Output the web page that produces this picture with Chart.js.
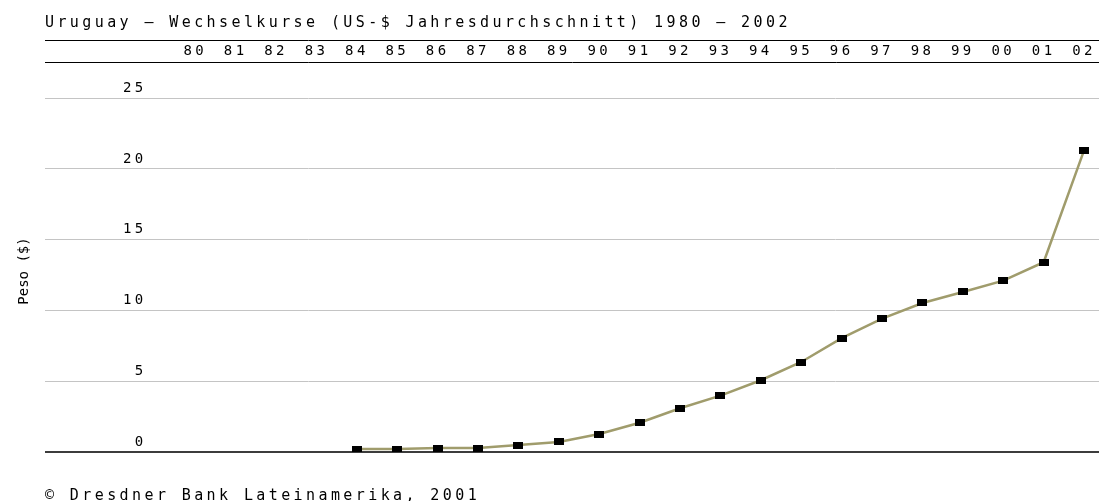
<!DOCTYPE html>
<html>
<head>
<meta charset="utf-8">
<script src="https://cdn.jsdelivr.net/npm/chart.js@4.4.1/dist/chart.umd.min.js"></script>
<style>
  body { margin: 0; background: #fff; }
  canvas { display: block; }
</style>
</head>
<body>
<canvas id="rateChart" width="1099" height="501"></canvas>
<script>
// Uruguay: peso per US-$, yearly average
const years = [1984, 1985, 1986, 1987, 1988, 1989, 1990, 1991, 1992, 1993,
  1994, 1995, 1996, 1997, 1998, 1999, 2000, 2001, 2002];
const pesoPerDollar = [0.21, 0.21, 0.28, 0.28, 0.49, 0.71, 1.27, 2.07, 3.09, 3.98,
  5.07, 6.36, 8.04, 9.42, 10.53, 11.31, 12.11, 13.41, 21.32];

const yearTicks = [1980, 1981, 1982, 1983, 1984, 1985, 1986, 1987, 1988, 1989, 1990, 1991,
  1992, 1993, 1994, 1995, 1996, 1997, 1998, 1999, 2000, 2001, 2002];
const yearLabels = ['80', '81', '82', '83', '84', '85', '86', '87', '88', '89', '90', '91',
  '92', '93', '94', '95', '96', '97', '98', '99', '00', '01', '02'];
const pesoTicks = [0, 5, 10, 15, 20, 25];

const FONT = '"DejaVu Sans Mono", "Liberation Mono", monospace';
const SPACING = '3.4px';

// black 10x7 marker, like the original gif
const marker = document.createElement('canvas');
marker.width = 10;
marker.height = 7;
const mctx = marker.getContext('2d');
mctx.fillStyle = '#000';
mctx.fillRect(0, 0, 10, 7);

const deco = {
  id: 'deco',
  beforeUpdate(chart) { chart.ctx.letterSpacing = SPACING; },
  beforeDraw(chart) { chart.ctx.letterSpacing = SPACING; },
  afterDraw(chart) {
    const ctx = chart.ctx;
    const area = chart.chartArea;
    const xs = chart.scales.x;
    ctx.save();
    // upper rule above the year row
    ctx.strokeStyle = '#000';
    ctx.lineWidth = 1;
    ctx.beginPath();
    ctx.moveTo(area.left, Math.round(xs.top) + 0.5);
    ctx.lineTo(area.right, Math.round(xs.top) + 0.5);
    ctx.stroke();
    // y axis caption
    ctx.letterSpacing = '0px';
    ctx.font = '14px ' + FONT;
    ctx.fillStyle = '#000';
    ctx.translate(24, (area.top + area.bottom) / 2 + 14);
    ctx.rotate(-Math.PI / 2);
    ctx.textAlign = 'center';
    ctx.textBaseline = 'middle';
    ctx.fillText('Peso ($)', 0, 0);
    ctx.restore();
  }
};

new Chart(document.getElementById('rateChart'), {
  type: 'line',
  data: {
    datasets: [{
      data: years.map((y, i) => ({ x: y, y: pesoPerDollar[i] })),
      borderColor: '#a09c6c',
      borderWidth: 2.5,
      tension: 0,
      pointStyle: marker,
      pointRadius: 5,
      fill: false,
    }],
  },
  options: {
    responsive: false,
    animation: false,
    layout: { autoPadding: false, padding: { left: 45, right: 0, top: 0, bottom: 0 } },
    plugins: {
      legend: { display: false },
      tooltip: { enabled: false },
      title: {
        display: true,
        text: 'Uruguay – Wechselkurse (US-$ Jahresdurchschnitt) 1980 – 2002',
        align: 'start',
        color: '#000',
        font: { family: FONT, size: 15, weight: 'normal', lineHeight: 1 },
        padding: { top: 16, bottom: 9 },
      },
      subtitle: {
        display: true,
        position: 'bottom',
        text: '© Dresdner Bank Lateinamerika, 2001',
        align: 'start',
        color: '#000',
        font: { family: FONT, size: 15, weight: 'normal', lineHeight: 1 },
        padding: { top: 37, bottom: -3 },
      },
    },
    scales: {
      x: {
        type: 'linear',
        position: 'top',
        min: 1976.28,
        max: 2002.37,
        afterBuildTicks: s => { s.ticks = yearTicks.map(v => ({ value: v })); },
        afterFit: s => { s.paddingLeft = 0; s.paddingRight = 0; },
        grid: { display: false, drawTicks: false },
        border: { display: true, color: '#000', width: 1 },
        ticks: {
          autoSkip: false,
          maxRotation: 0,
          padding: 4,
          color: '#000',
          font: { family: FONT, size: 14, lineHeight: 1 },
          callback: (v, i) => yearLabels[i],
        },
      },
      y: {
        min: 0,
        max: 27.56,
        afterBuildTicks: s => { s.ticks = pesoTicks.map(v => ({ value: v })); },
        // labels sit inside the plot, so the axis itself takes no room
        afterFit: s => { s.width = 0; s.paddingTop = 0; s.paddingBottom = 0; },
        grid: {
          drawTicks: false,
          color: c => (c.tick && c.tick.value === 0 ? '#3c3c3c' : '#c4c4c4'),
          lineWidth: c => (c.tick && c.tick.value === 0 ? 2 : 1),
        },
        border: { display: false },
        ticks: {
          mirror: true,
          crossAlign: 'far',
          padding: 78,
          labelOffset: -10,
          color: '#000',
          font: { family: FONT, size: 14, lineHeight: 1 },
        },
      },
    },
  },
  plugins: [deco],
});
</script>
</body>
</html>
